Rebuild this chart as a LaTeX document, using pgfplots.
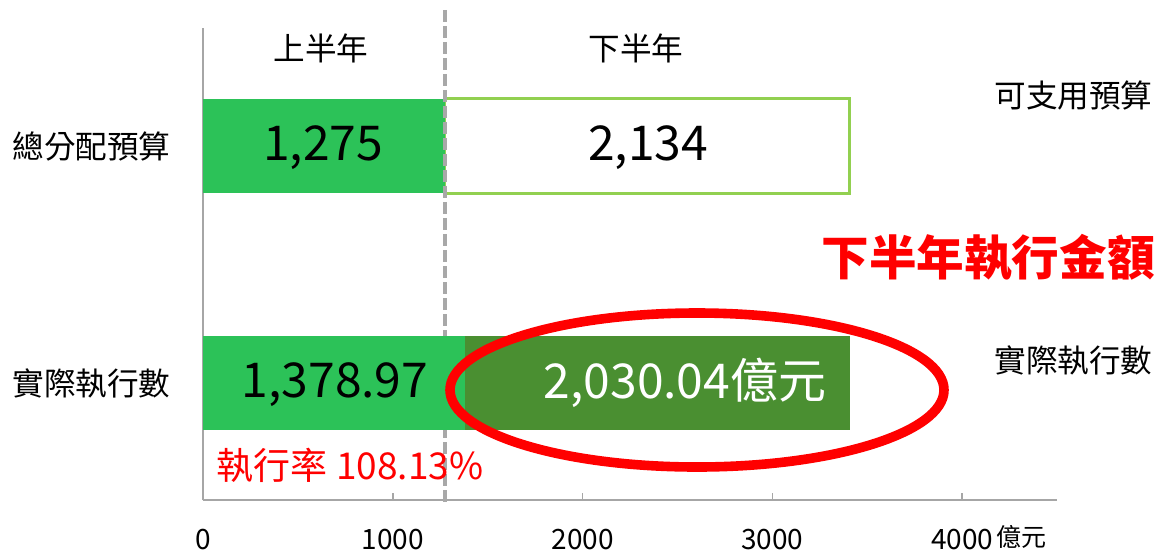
\documentclass[border=0pt]{standalone}
\usepackage{fontspec}
\setmainfont{Noto Sans CJK TC}
\usepackage{pgfplots}
\pgfplotsset{compat=1.18}
\definecolor{bgreen}{RGB}{44,194,88}
\definecolor{dgreen}{RGB}{74,143,49}
\definecolor{lgreen}{RGB}{146,208,80}
\definecolor{axgray}{RGB}{166,166,166}
\definecolor{dashgray}{RGB}{168,168,168}
\pgfplotsset{common/.style={width=427pt,height=236pt,scale only axis,
  xmin=0,xmax=4500,ymin=-0.494,ymax=1.498,at={(0,0)},anchor=south west,
  clip=false,xbar stacked,bar width=0.4}}
\begin{document}
\begin{tikzpicture}
\begin{axis}[common, axis lines*=left,
  axis line style={axgray, line width=1pt},
  xtick={0,1000,2000,3000,4000}, ytick=\empty,
  tick align=inside, major tick length=3.5pt,
  tick style={axgray, line width=0.8pt},
  xticklabel style={font=\fontsize{14}{14}\selectfont, yshift=-11pt, text=black},
  /pgf/number format/assume math mode=true,
  /pgf/number format/1000 sep={}]
\addplot[fill=bgreen, draw=none] coordinates {(1275,1)};
\addplot[fill=white, draw=lgreen, line width=1.5pt] coordinates {(2134,1)};
\end{axis}
\begin{axis}[common, hide axis]
\addplot[fill=bgreen, draw=none] coordinates {(1378.97,0)};
\addplot[fill=dgreen, draw=none] coordinates {(2030.04,0)};
\node[text=red, font=\fontsize{18.5}{18.5}\selectfont] at (axis cs:775,-0.35) {執行率 108.13\%};
\draw[dashgray, line width=2pt, dash pattern=on 6pt off 2pt] (axis cs:1275,1.574) -- (axis cs:1275,-0.519);
\end{axis}
\begin{scope}[x=0.5pt,y=-0.5pt,shift={(-101.5pt,250pt)}]
\begin{scope}[every node/.style={inner sep=0pt, font=\fontsize{15.8}{15.8}\selectfont}]
\node at (321,48) {上半年};
\node at (636,48) {下半年};
\node[anchor=west] at (994,95) {可支用預算};
\node[anchor=west] at (994,360) {實際執行數};
\node[anchor=east] at (171,146) {總分配預算};
\node[anchor=east] at (171,383) {實際執行數};
\end{scope}
\node[inner sep=0pt, text=red, font=\fontsize{23.8}{24}\selectfont\bfseries] at (988,258) {下半年執行金額};
\begin{scope}[every node/.style={inner sep=0pt, font=\fontsize{24}{24}\selectfont}]
\node at (323,148) {1,275};
\node at (648,148) {2,134};
\node at (335,385) {1,378.97};
\node[text=white] at (685,383) {2,030.04億元};
\end{scope}
\node[anchor=west, inner sep=0pt, font=\fontsize{12.5}{12.5}\selectfont] at (996,537) {億元};
\draw[red, line width=4.8pt] (697,390) ellipse [x radius=123.5pt, y radius=38.5pt];
\pgfresetboundingbox
\path[use as bounding box] (0,0) rectangle (1155,554);
\end{scope}
\end{tikzpicture}
\end{document}
